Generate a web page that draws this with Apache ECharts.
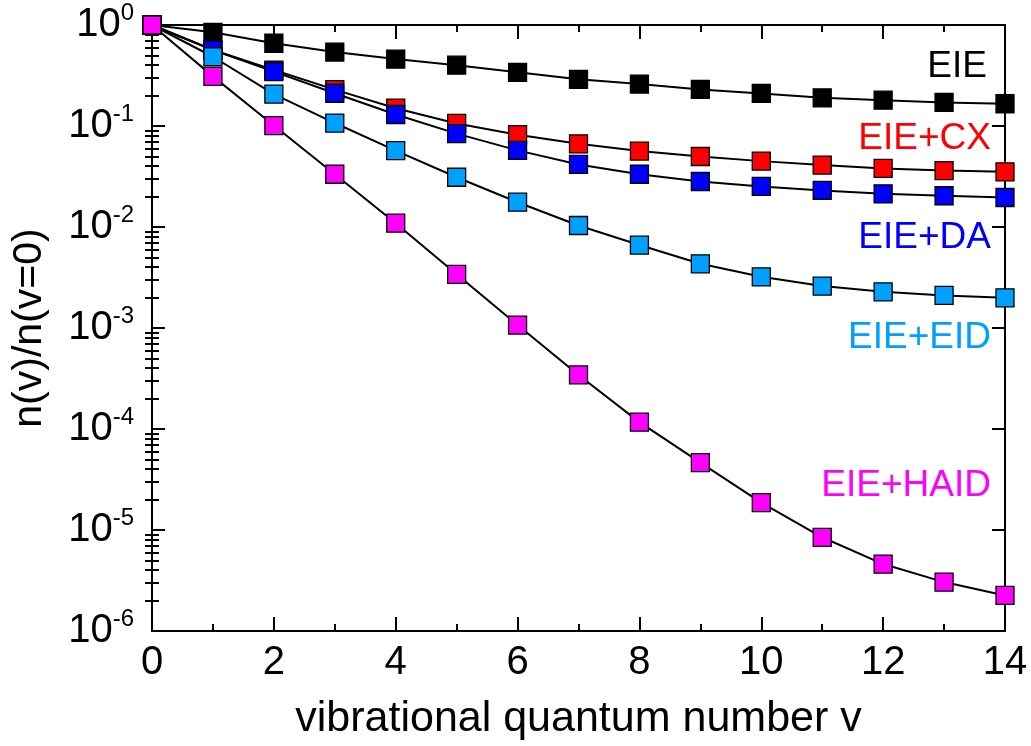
<!DOCTYPE html>
<html>
<head>
<meta charset="utf-8">
<script src="https://cdn.jsdelivr.net/npm/echarts@6/dist/echarts.min.js"></script>
<style>
html,body{margin:0;padding:0;background:#fff;}
#chart{width:1031px;height:746px;}
</style>
</head>
<body>
<div id="chart"></div>
<script>
// ---- data ----
const vLevels = [0,1,2,3,4,5,6,7,8,9,10,11,12,13,14];
const EIE      = [1, 0.846, 0.66, 0.54, 0.46, 0.40, 0.34, 0.29, 0.26, 0.23, 0.21, 0.19, 0.18, 0.171, 0.166];
const EIE_CX   = [1, 0.565, 0.358, 0.229, 0.150, 0.106, 0.082, 0.0666, 0.0565, 0.0499, 0.0449, 0.041, 0.038, 0.0362, 0.0352];
const EIE_DA   = [1, 0.565, 0.345, 0.211, 0.130, 0.084, 0.0574, 0.0416, 0.0333, 0.0282, 0.0252, 0.023, 0.0213, 0.0204, 0.0196];
const EIE_EID  = [1, 0.485, 0.207, 0.107, 0.057, 0.0311, 0.0176, 0.01035, 0.00663, 0.00432, 0.00321, 0.0026, 0.00228, 0.0021, 0.00199];
const EIE_HAID = [1, 0.31, 0.101, 0.0333, 0.0109, 0.0034, 0.00107, 3.43e-4, 1.17e-4, 4.65e-5, 1.87e-5, 8.47e-6, 4.6e-6, 3.05e-6, 2.25e-6];
const seriesNames  = ['EIE', 'EIE+CX', 'EIE+DA', 'EIE+EID', 'EIE+HAID'];
const seriesValues = [EIE, EIE_CX, EIE_DA, EIE_EID, EIE_HAID];
const seriesColors = ['#000000', '#ff0000', '#0000ff', '#00a0ff', '#ff00ff'];
const xTicks = [0,2,4,6,8,10,12,14];
const yMajorTicks = [1e-6, 1e-5, 1e-4, 1e-3, 1e-2, 1e-1, 1];
const yMinorTicks = [];
for (let e = -6; e < 0; e++) for (let m = 2; m <= 9; m++) yMinorTicks.push(m * Math.pow(10, e));
const xTitle = 'vibrational quantum number v';
const yTitle = 'n(v)/n(v=0)';

const FONT = 'Liberation Sans, Arial, Helvetica, sans-serif';
const chart = echarts.init(document.getElementById('chart'), null, {renderer: 'canvas'});

const axLine = {show: true, onZero: false, lineStyle: {color: '#000', width: 2}};
function xAx(pos, labels) {
  return {
    type: 'value', min: 0, max: 14, interval: 2, position: pos,
    axisLine: axLine,
    axisTick: {show: true, inside: true, length: 14, lineStyle: {color: '#000', width: 2}},
    minorTick: {show: true, splitNumber: 2, length: 7, lineStyle: {color: '#000', width: 2}},
    splitLine: {show: false}, minorSplitLine: {show: false},
    axisLabel: labels ? {show: true, margin: 12, color: '#000', fontFamily: FONT, fontSize: 40} : {show: false},
    name: labels ? xTitle : '', nameLocation: 'middle', nameGap: 67,
    nameTextStyle: {color: '#000', fontFamily: FONT, fontSize: 43}
  };
}
function yAx(pos, major, labels) {
  return {
    type: 'log', logBase: 10, min: 1e-6, max: 1, position: pos,
    axisLine: major ? axLine : {show: false},
    axisTick: {show: true, inside: true, length: major ? 13 : 7,
      customValues: major ? yMajorTicks : yMinorTicks,
      lineStyle: {color: '#000', width: 2}},
    splitLine: {show: false},
    axisLabel: labels ? {
      show: true, margin: 18, customValues: yMajorTicks,
      formatter: function (v) { return '{b|10}{s|' + Math.round(Math.log10(v)) + '}'; },
      rich: {
        b: {fontFamily: FONT, fontSize: 40, color: '#000', lineHeight: 48},
        s: {fontFamily: FONT, fontSize: 24, color: '#000', lineHeight: 24, verticalAlign: 'top'}
      }
    } : {show: false},
    name: labels ? yTitle : '', nameLocation: 'middle', nameGap: 102, nameRotate: 90,
    nameTextStyle: {color: '#000', fontFamily: FONT, fontSize: 41}
  };
}

const series = seriesNames.map(function (name, i) {
  return {
    name: name, type: 'line', xAxisIndex: 0, yAxisIndex: 0,
    data: vLevels.map(function (v, j) { return [v, seriesValues[i][j]]; }),
    symbol: 'rect', symbolSize: 18,
    itemStyle: {color: seriesColors[i], borderColor: '#000', borderWidth: 1.3},
    lineStyle: {color: '#000', width: 2},
    emphasis: {disabled: true},
    z: 2 + i, animation: false
  };
});

const labelY = [67, 139, 238, 338, 486];
const labelX = [987, 991, 991, 991, 991];
const graphics = seriesNames.map(function (name, i) {
  return {type: 'text', x: labelX[i], y: labelY[i], z: 100,
    style: {text: name, fill: seriesColors[i], font: '37px ' + FONT, textAlign: 'right', textVerticalAlign: 'middle'}};
});

chart.setOption({
  backgroundColor: '#fff',
  animation: false,
  grid: {left: 152, right: 26, top: 25, bottom: 115, containLabel: false, outerBoundsMode: 'none'},
  xAxis: [xAx('bottom', true), xAx('top', false)],
  yAxis: [yAx('left', true, true), yAx('right', true, false), yAx('left', false, false), yAx('right', false, false)],
  series: series,
  graphic: graphics
});
</script>
</body>
</html>
